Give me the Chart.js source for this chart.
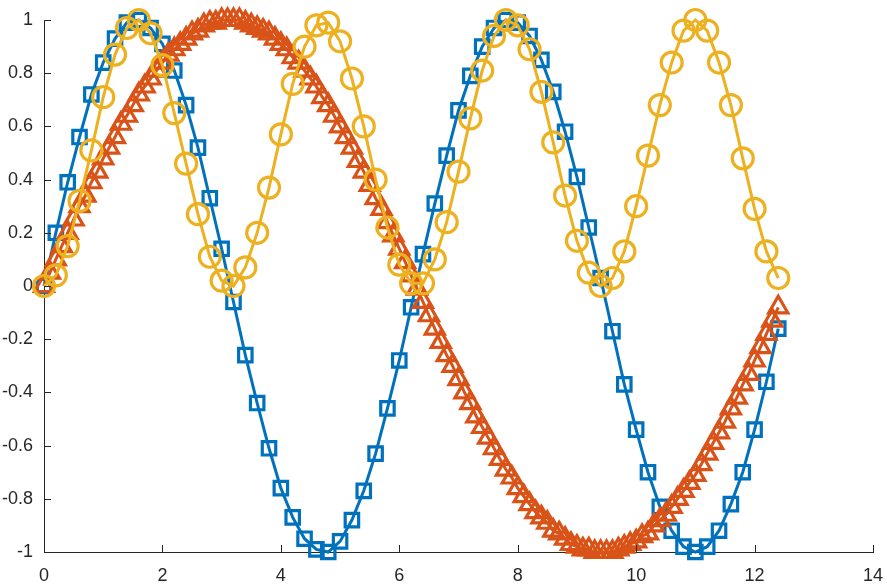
<!DOCTYPE html>
<html>
<head>
<meta charset="utf-8">
<script src="https://cdn.jsdelivr.net/npm/chart.js@4/dist/chart.umd.min.js"></script>
<style>
  html, body { margin: 0; padding: 0; background: #ffffff; overflow: hidden; }
  #plot { display: block; }
</style>
</head>
<body>
<canvas id="plot" width="887" height="587"></canvas>
<script>
/* ===============================
   DATA
================================= */

// x positions of the square and circle markers
const xCoarse = [
  0, 0.2, 0.4, 0.6, 0.8, 1.0, 1.2, 1.4, 1.6, 1.8,
  2.0, 2.2, 2.4, 2.6, 2.8, 3.0, 3.2, 3.4, 3.6, 3.8,
  4.0, 4.2, 4.4, 4.6, 4.8, 5.0, 5.2, 5.4, 5.6, 5.8,
  6.0, 6.2, 6.4, 6.6, 6.8, 7.0, 7.2, 7.4, 7.6, 7.8,
  8.0, 8.2, 8.4, 8.6, 8.8, 9.0, 9.2, 9.4, 9.6, 9.8,
  10.0, 10.2, 10.4, 10.6, 10.8, 11.0, 11.2, 11.4, 11.6, 11.8,
  12.0, 12.2, 12.4
];

// blue squares
const blueValues = [
  0, 0.20, 0.39, 0.56, 0.72, 0.84, 0.93, 0.99, 1.00, 0.97,
  0.91, 0.81, 0.68, 0.52, 0.33, 0.14, -0.06, -0.26, -0.44, -0.61,
  -0.76, -0.87, -0.95, -0.99, -1.00, -0.96, -0.88, -0.77, -0.63, -0.46,
  -0.28, -0.08, 0.12, 0.31, 0.49, 0.66, 0.79, 0.90, 0.97, 1.00,
  0.99, 0.94, 0.85, 0.73, 0.58, 0.41, 0.22, 0.03, -0.17, -0.37,
  -0.54, -0.70, -0.83, -0.92, -0.98, -1.00, -0.98, -0.92, -0.82, -0.70,
  -0.54, -0.36, -0.16
];

// yellow circles
const yellowValues = [
  0, 0.04, 0.15, 0.32, 0.51, 0.71, 0.87, 0.97, 1.00, 0.95,
  0.83, 0.65, 0.46, 0.27, 0.11, 0.02, 0.00, 0.07, 0.20, 0.37,
  0.57, 0.76, 0.90, 0.98, 0.99, 0.92, 0.78, 0.60, 0.40, 0.22,
  0.08, 0.01, 0.01, 0.10, 0.24, 0.43, 0.63, 0.81, 0.94, 1.00,
  0.98, 0.89, 0.73, 0.54, 0.34, 0.17, 0.05, 0.00, 0.03, 0.13,
  0.30, 0.49, 0.68, 0.84, 0.96, 1.00, 0.96, 0.84, 0.68, 0.48,
  0.29, 0.13, 0.03
];

// x positions of the (denser) triangle markers
const xFine = [
  0, 0.1, 0.2, 0.3, 0.4, 0.5, 0.6, 0.7, 0.8, 0.9,
  1.0, 1.1, 1.2, 1.3, 1.4, 1.5, 1.6, 1.7, 1.8, 1.9,
  2.0, 2.1, 2.2, 2.3, 2.4, 2.5, 2.6, 2.7, 2.8, 2.9,
  3.0, 3.1, 3.2, 3.3, 3.4, 3.5, 3.6, 3.7, 3.8, 3.9,
  4.0, 4.1, 4.2, 4.3, 4.4, 4.5, 4.6, 4.7, 4.8, 4.9,
  5.0, 5.1, 5.2, 5.3, 5.4, 5.5, 5.6, 5.7, 5.8, 5.9,
  6.0, 6.1, 6.2, 6.3, 6.4, 6.5, 6.6, 6.7, 6.8, 6.9,
  7.0, 7.1, 7.2, 7.3, 7.4, 7.5, 7.6, 7.7, 7.8, 7.9,
  8.0, 8.1, 8.2, 8.3, 8.4, 8.5, 8.6, 8.7, 8.8, 8.9,
  9.0, 9.1, 9.2, 9.3, 9.4, 9.5, 9.6, 9.7, 9.8, 9.9,
  10.0, 10.1, 10.2, 10.3, 10.4, 10.5, 10.6, 10.7, 10.8, 10.9,
  11.0, 11.1, 11.2, 11.3, 11.4, 11.5, 11.6, 11.7, 11.8, 11.9,
  12.0, 12.1, 12.2, 12.3, 12.4
];

// orange triangles
const orangeValues = [
  0, 0.05, 0.10, 0.15, 0.20, 0.25, 0.30, 0.34, 0.39, 0.43,
  0.48, 0.52, 0.56, 0.61, 0.64, 0.68, 0.72, 0.75, 0.78, 0.81,
  0.84, 0.87, 0.89, 0.91, 0.93, 0.95, 0.96, 0.98, 0.99, 0.99,
  1.00, 1.00, 1.00, 1.00, 0.99, 0.98, 0.97, 0.96, 0.95, 0.93,
  0.91, 0.89, 0.86, 0.84, 0.81, 0.78, 0.75, 0.71, 0.68, 0.64,
  0.60, 0.56, 0.52, 0.47, 0.43, 0.38, 0.33, 0.29, 0.24, 0.19,
  0.14, 0.09, 0.04, -0.01, -0.06, -0.11, -0.16, -0.21, -0.26, -0.30,
  -0.35, -0.40, -0.44, -0.49, -0.53, -0.57, -0.61, -0.65, -0.69, -0.72,
  -0.76, -0.79, -0.82, -0.85, -0.87, -0.89, -0.92, -0.93, -0.95, -0.97,
  -0.98, -0.99, -0.99, -1.00, -1.00, -1.00, -1.00, -0.99, -0.98, -0.97,
  -0.96, -0.94, -0.93, -0.90, -0.88, -0.86, -0.83, -0.80, -0.77, -0.74,
  -0.71, -0.67, -0.63, -0.59, -0.55, -0.51, -0.46, -0.42, -0.37, -0.33,
  -0.28, -0.23, -0.18, -0.13, -0.08
];

const xTicks = [0, 2, 4, 6, 8, 10, 12, 14];
const yTicks = [-1, -0.8, -0.6, -0.4, -0.2, 0, 0.2, 0.4, 0.6, 0.8, 1];

/* ===============================
   HELPERS
================================= */

const AXIS_COLOR = "#262626";
const TICK_FONT = { family: "'Liberation Sans', Arial, sans-serif", size: 18 };

function toPoints(xs, ys) {
  return xs.map((x, i) => ({ x: x, y: ys[i] }));
}

function fmt(v) {
  return String(Number(v.toFixed(1)));
}

// MATLAB style: tick marks pointing into the plot area
const inwardTicks = {
  id: "inwardTicks",
  afterDraw(chart) {
    const { ctx, chartArea, scales } = chart;
    const len = 7;
    ctx.save();
    ctx.strokeStyle = AXIS_COLOR;
    ctx.lineWidth = 1;
    ctx.beginPath();
    xTicks.forEach(t => {
      const px = Math.round(scales.x.getPixelForValue(t)) + 0.5;
      ctx.moveTo(px, chartArea.bottom);
      ctx.lineTo(px, chartArea.bottom - len);
    });
    yTicks.forEach(t => {
      const py = Math.round(scales.y.getPixelForValue(t)) + 0.5;
      ctx.moveTo(chartArea.left, py);
      ctx.lineTo(chartArea.left + len, py);
    });
    ctx.stroke();
    ctx.restore();
  }
};

function series(label, xs, ys, color, style, radius, order) {
  return {
    label: label,
    data: toPoints(xs, ys),
    showLine: true,
    borderColor: color,
    backgroundColor: "rgba(0,0,0,0)",
    borderWidth: 3,
    pointStyle: style,
    pointRadius: radius,
    pointBorderWidth: 3.2,
    pointBorderColor: color,
    pointBackgroundColor: "rgba(0,0,0,0)",
    clip: false,
    order: order
  };
}

/* ===============================
   CHART
================================= */

new Chart(document.getElementById("plot"), {
  type: "scatter",
  data: {
    datasets: [
      series("blue", xCoarse, blueValues, "#0072BD", "rect", 9.5, 3),
      series("orange", xFine, orangeValues, "#D95319", "triangle", 11, 2),
      series("yellow", xCoarse, yellowValues, "#EDB120", "circle", 10.5, 1)
    ]
  },
  options: {
    responsive: false,
    animation: false,
    events: [],
    devicePixelRatio: 1,
    layout: {
      autoPadding: false,
      padding: { top: 20, right: 14, left: 0, bottom: 0 }
    },
    plugins: {
      legend: { display: false },
      tooltip: { enabled: false }
    },
    scales: {
      x: {
        type: "linear",
        min: 0,
        max: 14,
        afterFit(scale) {
          scale.height = 35;
          scale.paddingLeft = 0;
          scale.paddingRight = 0;
        },
        afterBuildTicks(scale) { scale.ticks = xTicks.map(v => ({ value: v })); },
        grid: { display: false, drawTicks: false },
        border: { display: true, color: AXIS_COLOR, width: 1 },
        ticks: {
          color: AXIS_COLOR,
          font: TICK_FONT,
          padding: 13,
          maxRotation: 0,
          callback: v => fmt(v)
        }
      },
      y: {
        type: "linear",
        min: -1,
        max: 1,
        afterFit(scale) {
          scale.width = 44;
          scale.paddingTop = 0;
          scale.paddingBottom = 0;
        },
        afterBuildTicks(scale) { scale.ticks = yTicks.map(v => ({ value: v })); },
        grid: { display: false, drawTicks: false },
        border: { display: true, color: AXIS_COLOR, width: 1 },
        ticks: {
          color: AXIS_COLOR,
          font: TICK_FONT,
          padding: 11,
          callback: v => fmt(v)
        }
      }
    }
  },
  plugins: [inwardTicks]
});
</script>
</body>
</html>
